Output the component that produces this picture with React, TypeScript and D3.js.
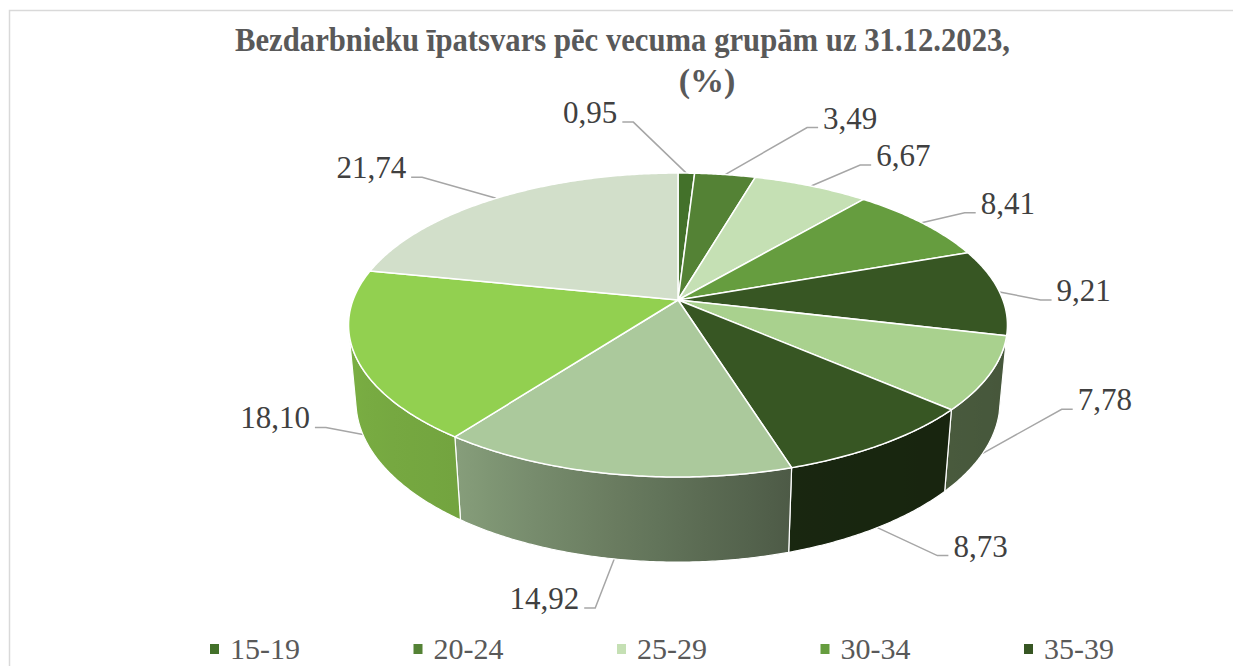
import React from 'react';
import * as d3 from 'd3';

// ---- data ----
const categories = ['15-19', '20-24', '25-29', '30-34', '35-39', '40-44', '45-49', '50-54', '55-59', '60+'];
const values = [0.95, 3.49, 6.67, 8.41, 9.21, 7.78, 8.73, 14.92, 18.10, 21.74];
const titleLines = ['Bezdarbnieku īpatsvars pēc vecuma grupām uz 31.12.2023,', '(%)'];

// ---- styles / layout ----
const colors = ['#43712a', '#548235', '#c5e0b4', '#669d3f', '#375623', '#a9d18e', '#375623', '#abc99c', '#92d050', '#d2dfca'];
// leader elbow offsets (px) from the slice anchor point (label layout, Excel "best fit")
const labelOffsets: [number, number][] = [[-53, -51], [82, -47], [49, -21], [43, -10], [41, 8], [79, -44], [60, 28], [-19, 49], [-37, -7], [-74, -21]];
// legend shows one row of five entries in the visible area
const legendVisible = 5;

const W = 1233, H = 666;
const cam: any = { cx: 678, cy: 300, f: 1758, D: 5.41, s: 0.455, t: 0.266 };
cam.c = Math.sqrt(1 - cam.s * cam.s);

function proj(X: number, Y: number, Z: number): [number, number] {
  const c = cam.c, s = cam.s;
  const v = Y * c + Z * s;
  const d = cam.D + Z * c - Y * s;
  return [cam.cx + (cam.f * X) / d, cam.cy - (cam.f * v) / d];
}
const rim = (a: number, Y: number) => proj(Math.sin(a), Y, Math.cos(a));

const shade = d3.scaleLinear<number>().domain([90, 131, 163, 217, 270]).range([0.40, 0.43, 0.45, 0.79, 0.86]).clamp(true);
function darken(col: string, k: number) {
  const c = d3.rgb(col);
  return d3.rgb(c.r * k, c.g * k, c.b * k).formatHex();
}

const serif = "'Liberation Serif', 'Times New Roman', serif";

export default function App() {
  const pie = d3.pie<number>().sort(null).value((d) => d)(values);
  const thMin = Math.acos(-1 / (cam.c * cam.D));
  const thMax = 2 * Math.PI - thMin;
  const step = Math.PI / 360;
  const samples = (a0: number, a1: number) => {
    const n = Math.max(2, Math.ceil((a1 - a0) / step));
    return d3.range(n + 1).map((i) => a0 + ((a1 - a0) * i) / n);
  };
  const line = d3.line();

  const sides: any[] = [];
  const tops: any[] = [];
  const leaders: any[] = [];
  pie.forEach((p, i) => {
    const a0 = p.startAngle, a1 = p.endAngle;
    const topPts: [number, number][] = [proj(0, 0, 0), ...samples(a0, a1).map((a) => rim(a, 0))];
    tops.push(<path key={'t' + i} d={line(topPts) + 'Z'} fill={colors[i]} stroke="#ffffff" strokeWidth={1.5} strokeLinejoin="round" />);
    const b0 = Math.max(a0, thMin), b1 = Math.min(a1, thMax);
    if (b1 > b0) {
      const ang = samples(b0, b1);
      const pts: [number, number][] = [...ang.map((a) => rim(a, 0)), ...ang.slice().reverse().map((a) => rim(a, -cam.t))];
      const xL = rim(b1, 0)[0], xR = rim(b0, 0)[0];
      const stops = d3.range(9).map((k) => {
        const a = b0 + ((b1 - b0) * k) / 8;
        const x = rim(a, 0)[0];
        return { off: (x - xL) / (xR - xL), col: darken(colors[i], shade((a * 180) / Math.PI)) };
      }).sort((u, v) => u.off - v.off);
      sides.push(
        <g key={'s' + i}>
          <defs>
            <linearGradient id={'g' + i} gradientUnits="userSpaceOnUse" x1={xL} y1={0} x2={xR} y2={0}>
              {stops.map((st, k) => <stop key={k} offset={st.off} stopColor={st.col} />)}
            </linearGradient>
          </defs>
          <path d={line(pts) + 'Z'} fill={`url(#g${i})`} stroke="#ffffff" strokeWidth={1.2} strokeLinejoin="round" />
        </g>
      );
    }
    const mid = (a0 + a1) / 2;
    const front = Math.cos(mid) < 0;
    const anchor = rim(mid, front ? -cam.t : 0);
    const [dx, dy] = labelOffsets[i];
    const E: [number, number] = [anchor[0] + dx, anchor[1] + dy];
    const sg = dx < 0 ? -1 : 1;
    leaders.push(
      <g key={'l' + i}>
        <path d={line([anchor, E, [E[0] + sg * 11, E[1]]]) as string} fill="none" stroke="#a6a6a6" strokeWidth={1.5} />
        <text x={E[0] + sg * 16} y={E[1] + 1} textAnchor={sg < 0 ? 'end' : 'start'} fontFamily={serif} fontSize={31} fill="#404040">
          {d3.format('.2f')(values[i]).replace('.', ',')}
        </text>
      </g>
    );
  });

  const legendX = d3.scalePoint<number>().domain(d3.range(5)).range([210, 1024]);

  return (
    <div style={{ position: 'absolute', left: 0, top: 0, width: W, height: H, background: '#fff' }}>
      <svg width={W} height={H} style={{ display: 'block' }}>
        <rect x={0} y={0} width={W} height={H} fill="#ffffff" />
        <rect x={9.5} y={10.5} width={1400} height={900} fill="#ffffff" stroke="#d9d9d9" strokeWidth={1.5} />
        <text x={235} y={51} fontFamily={serif} fontWeight="bold" fontSize={34} fill="#595959" textLength={775} lengthAdjust="spacingAndGlyphs">
          {titleLines[0]}
        </text>
        <text x={707} y={92} textAnchor="middle" fontFamily={serif} fontWeight="bold" fontSize={34} fill="#595959">
          {titleLines[1]}
        </text>
        {leaders}
        {sides}
        {tops}
        {categories.slice(0, legendVisible).map((cat, i) => {
          const x = legendX(i) as number;
          const y = 659;
          return (
            <g key={'lg' + i}>
              <rect x={x} y={y - 15} width={9} height={10} fill={colors[i]} />
              <text x={x + 20} y={y} fontFamily={serif} fontSize={30} fill="#595959">{cat}</text>
            </g>
          );
        })}
      </svg>
    </div>
  );
}
